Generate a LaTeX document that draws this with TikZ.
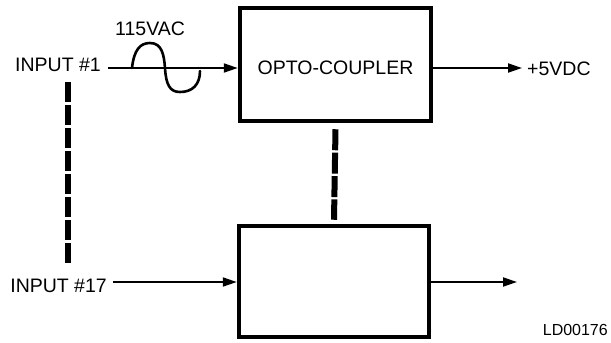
\documentclass[tikz,border=0pt]{standalone}
\usepackage{fontspec}
\setmainfont{Liberation Sans}
\usetikzlibrary{arrows.meta}
\begin{document}
\begin{tikzpicture}[x=1pt,y=-1pt,
  lbl/.style={inner sep=0pt,font=\fontsize{19.5}{20}\selectfont},
  blk/.style={draw,line width=4.5pt,inner sep=0pt,font=\fontsize{19.5}{20}\selectfont},
  sig/.style={line width=2pt,-{Triangle[length=14pt,width=9pt]}},
  link/.style={line width=6pt}]
\useasboundingbox (0,0) rectangle (611,343);
% boxes
\node[blk,minimum width=191pt,minimum height=113pt,text height=20pt] (box1) at (335.5,64.5) {OPTO-COUPLER};
\node[blk,minimum width=190pt,minimum height=111pt] (box2) at (334,281.5) {};
% texts
\node[lbl,anchor=base east] (in1) at (101,71) {INPUT \#1};
\node[lbl,anchor=base west] (vac) at (115,35) {115VAC};
\node[lbl,anchor=base west] (out1) at (527,75) {+5VDC};
\node[lbl,anchor=base east] (in17) at (107,292) {INPUT \#17};
\node[inner sep=0pt,anchor=base east,font=\fontsize{16}{18}\selectfont] (ld) at (608,335) {LD00176};
% coordinates
\coordinate (s1) at (108,68);
\coordinate (o1) at (522,68);
\coordinate (s17) at (113,282);
\coordinate (o17) at (517,282);
\coordinate (d1) at (68,82);
\coordinate (d2) at (68,263);
% signal arrows
\draw[sig] (s1) -- (s1 -| box1.west);
\draw[sig] (box1.east |- o1) -- (o1);
\draw[sig] (s17) -- (s17 -| box2.west);
\draw[sig] (box2.east |- o17) -- (o17);
% sine wave
\draw[line width=2.6pt,line cap=round] (132,68) .. controls (134,50) and (140,43) .. (150,43)
  .. controls (162,43) and (164,55) .. (165,68)
  .. controls (166,85) and (170,92) .. (180,92)
  .. controls (192,92) and (200,85) .. (200,71);
% dashed links
\draw[link,dash pattern=on 20pt off 3pt] (d1) -- (d2);
\draw[link,dash pattern=on 21pt off 2.4pt] ([yshift=-6pt]box1.south) -- ([yshift=4pt]box2.north);
\end{tikzpicture}
\end{document}
